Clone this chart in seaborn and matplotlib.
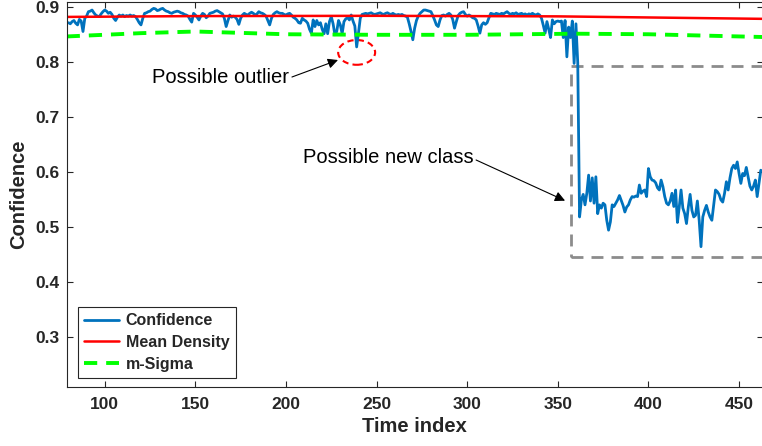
import numpy as np
import matplotlib
matplotlib.use('Agg')
import matplotlib.pyplot as plt
from matplotlib.patches import Ellipse, Rectangle
import seaborn as sns

sns.set_style('ticks')
plt.rcParams['font.family'] = ['Liberation Sans', 'DejaVu Sans']

# Datos
time_index = np.arange(80, 463)
confidence = [
    0.872, 0.870, 0.874, 0.876, 0.871, 0.868, 0.878, 0.875, 0.856, 0.880,  # 80
    0.884, 0.892, 0.893, 0.895, 0.890, 0.886, 0.884, 0.883, 0.888, 0.892,  # 90
    0.895, 0.893, 0.889, 0.891, 0.887, 0.880, 0.876, 0.882, 0.886, 0.884,  # 100
    0.886, 0.883, 0.885, 0.884, 0.886, 0.884, 0.885, 0.883, 0.878, 0.872,  # 110
    0.868, 0.880, 0.889, 0.890, 0.892, 0.893, 0.896, 0.898, 0.897, 0.894,  # 120
    0.895, 0.897, 0.898, 0.895, 0.893, 0.892, 0.890, 0.889, 0.891, 0.892,  # 130
    0.893, 0.892, 0.890, 0.889, 0.887, 0.886, 0.884, 0.878, 0.873, 0.889,  # 140
    0.886, 0.882, 0.877, 0.884, 0.889, 0.887, 0.881, 0.884, 0.889, 0.890,  # 150
    0.891, 0.893, 0.894, 0.892, 0.890, 0.888, 0.880, 0.865, 0.876, 0.886,  # 160
    0.882, 0.884, 0.882, 0.878, 0.869, 0.880, 0.886, 0.889, 0.887, 0.886,  # 170
    0.889, 0.891, 0.889, 0.886, 0.888, 0.892, 0.890, 0.889, 0.887, 0.884,  # 180
    0.876, 0.868, 0.880, 0.887, 0.890, 0.892, 0.890, 0.889, 0.889, 0.887,  # 190
    0.886, 0.888, 0.889, 0.886, 0.882, 0.880, 0.877, 0.872, 0.871, 0.880,  # 200
    0.877, 0.875, 0.871, 0.860, 0.853, 0.877, 0.865, 0.876, 0.868, 0.872,  # 210
    0.860, 0.852, 0.870, 0.852, 0.874, 0.883, 0.870, 0.850, 0.856, 0.876,  # 220
    0.868, 0.852, 0.874, 0.879, 0.881, 0.877, 0.886, 0.875, 0.866, 0.828,  # 230
    0.853, 0.880, 0.887, 0.888, 0.889, 0.888, 0.889, 0.890, 0.888, 0.887,  # 240
    0.888, 0.889, 0.890, 0.888, 0.887, 0.889, 0.890, 0.888, 0.887, 0.889,  # 250
    0.887, 0.886, 0.887, 0.886, 0.887, 0.885, 0.884, 0.882, 0.870, 0.856,  # 260
    0.841, 0.862, 0.876, 0.884, 0.889, 0.892, 0.895, 0.895, 0.894, 0.893,  # 270
    0.892, 0.885, 0.877, 0.868, 0.865, 0.877, 0.885, 0.886, 0.884, 0.887,  # 280
    0.889, 0.886, 0.878, 0.862, 0.874, 0.885, 0.889, 0.891, 0.892, 0.887,  # 290
    0.884, 0.886, 0.884, 0.881, 0.880, 0.877, 0.866, 0.853, 0.868, 0.872,  # 300
    0.869, 0.872, 0.881, 0.889, 0.888, 0.887, 0.889, 0.888, 0.887, 0.889,  # 310
    0.888, 0.890, 0.892, 0.889, 0.887, 0.889, 0.888, 0.890, 0.887, 0.888,  # 320
    0.889, 0.887, 0.888, 0.886, 0.888, 0.887, 0.889, 0.887, 0.886, 0.888,  # 330
    0.886, 0.880, 0.867, 0.853, 0.874, 0.860, 0.845, 0.877, 0.870, 0.874,  # 340
    0.875, 0.874, 0.875, 0.845, 0.876, 0.810, 0.864, 0.845, 0.875, 0.798,  # 350
    0.870, 0.799, 0.519, 0.550, 0.560, 0.541, 0.562, 0.595, 0.548, 0.590,  # 360
    0.544, 0.592, 0.525, 0.541, 0.535, 0.544, 0.541, 0.513, 0.495, 0.510,  # 370
    0.541, 0.538, 0.544, 0.550, 0.558, 0.549, 0.540, 0.528, 0.537, 0.541,  # 380
    0.550, 0.556, 0.555, 0.557, 0.556, 0.577, 0.562, 0.566, 0.568, 0.556,  # 390
    0.607, 0.592, 0.586, 0.585, 0.581, 0.572, 0.568, 0.586, 0.574, 0.556,  # 400
    0.544, 0.541, 0.548, 0.562, 0.538, 0.568, 0.509, 0.537, 0.568, 0.535,  # 410
    0.525, 0.507, 0.537, 0.560, 0.531, 0.519, 0.522, 0.548, 0.513, 0.465,  # 420
    0.519, 0.531, 0.540, 0.528, 0.519, 0.513, 0.540, 0.568, 0.565, 0.560,  # 430
    0.550, 0.546, 0.562, 0.583, 0.568, 0.590, 0.607, 0.613, 0.607, 0.619,  # 440
    0.598, 0.580, 0.598, 0.594, 0.609, 0.592, 0.575, 0.568, 0.575, 0.586,  # 450
    0.556, 0.580, 0.604,                                                  # 460
]

mean_x = [79, 150, 250, 350, 463]
mean_y = [0.8825, 0.8840, 0.8845, 0.8835, 0.8790]

sigma_x = [79, 120, 150, 200, 250, 300, 360, 400, 463]
sigma_y = [0.847, 0.853, 0.856, 0.851, 0.850, 0.850, 0.852, 0.851, 0.846]

xticks = [100, 150, 200, 250, 300, 350, 400, 450]
yticks = [0.3, 0.4, 0.5, 0.6, 0.7, 0.8, 0.9]

fig = plt.figure(figsize=(7.62, 4.46), dpi=100)
ax = fig.add_axes([0.0875, 0.1323, 0.9133, 0.8637])

sns.lineplot(x=time_index, y=confidence, ax=ax, color='#0072BD',
             linewidth=2, label='Confidence')
sns.lineplot(x=mean_x, y=mean_y, ax=ax, color='#FF0000',
             linewidth=1.8, label='Mean Density')
sns.lineplot(x=sigma_x, y=sigma_y, ax=ax, color='#00FF00',
             linewidth=2.8, linestyle=(0, (3.4, 2.3)), label='m-Sigma')

# Zona de nueva clase y outlier
ax.add_patch(Rectangle((357.3, 0.4462), 120, 0.7933 - 0.4462, fill=False,
                       edgecolor='#8c8c8c', linewidth=2,
                       linestyle=(0, (4.3, 2.9))))
ax.add_patch(Ellipse((239.0, 0.818), 20.4, 0.045, fill=False,
                     edgecolor='#FF0000', linewidth=1.5,
                     linestyle=(0, (3, 2))))

arrow = dict(arrowstyle='-|>', color='k', lw=0.8, mutation_scale=15,
             shrinkA=0, shrinkB=0)
ax.annotate('', xy=(228.7, 0.8042), xytext=(203.3, 0.7733), arrowprops=arrow)
ax.text(201.7, 0.7733, 'Possible outlier', ha='right', va='center',
        fontsize=14.5, color='k')
ax.annotate('', xy=(354.0, 0.5486), xytext=(304.9, 0.6225), arrowprops=arrow)
ax.text(303.7, 0.6262, 'Possible new class', ha='right', va='center',
        fontsize=14.5, color='k')

ax.set_xlim(79, 463)
ax.set_ylim(0.21, 0.91)
ax.set_xticks(xticks)
ax.set_yticks(yticks)
ax.set_yticklabels([f'{v:.1f}' for v in yticks])
ax.tick_params(direction='in', length=4, width=0.8, colors='#262626',
               labelsize=12.5, top=True, right=True)
ax.tick_params(axis='x', pad=7)
ax.tick_params(axis='y', pad=5)
for lab in ax.get_xticklabels() + ax.get_yticklabels():
    lab.set_fontweight('bold')
for sp in ax.spines.values():
    sp.set_color('#262626')
    sp.set_linewidth(0.8)

ax.set_xlabel('Time index', fontsize=14.5, fontweight='bold',
              color='#262626', labelpad=4)
ax.set_ylabel('Confidence', fontsize=14.5, fontweight='bold',
              color='#262626', labelpad=5)

leg = ax.legend(loc='lower left', bbox_to_anchor=(0.016, 0.023),
                borderaxespad=0, frameon=True, fancybox=False,
                edgecolor='#262626', framealpha=1,
                prop={'weight': 'bold', 'size': 11.5},
                handlelength=2.2, handletextpad=0.4, labelspacing=0.42,
                borderpad=0.4)
leg.get_frame().set_linewidth(0.8)

fig.savefig('out.png', dpi=100)
plt.close(fig)
